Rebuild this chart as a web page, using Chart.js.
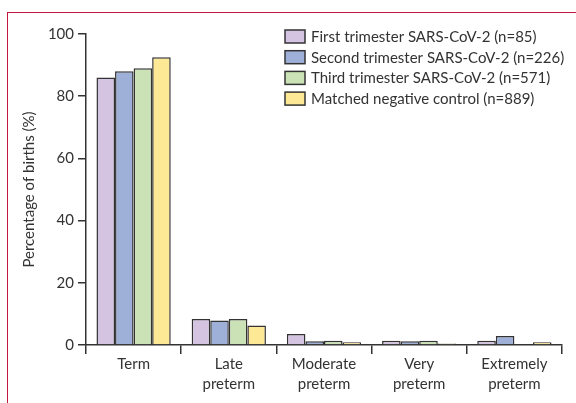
<!DOCTYPE html>
<html>
<head>
<meta charset="utf-8">
<script src="https://cdn.jsdelivr.net/npm/chart.js@4"></script>
<style>
html,body{margin:0;padding:0;background:#fff;}
#wrap{position:relative;width:576px;height:403px;}
#frame{position:absolute;left:7px;top:12px;width:569px;height:391px;border-left:1.5px solid #c4163f;border-top:1.5px solid #c4163f;box-sizing:border-box;}
canvas{position:absolute;left:0;top:0;}
</style>
</head>
<body>
<div id="wrap"><div id="frame"></div><canvas id="c" width="576" height="403"></canvas></div>
<script>
const categories = [["Term"], ["Late", "preterm"], ["Moderate", "preterm"], ["Very", "preterm"], ["Extremely", "preterm"]];
const seriesNames = ["First trimester SARS-CoV-2 (n=85)", "Second trimester SARS-CoV-2 (n=226)", "Third trimester SARS-CoV-2 (n=571)", "Matched negative control (n=889)"];
const firstTrimester = [86.0, 8.4, 3.5, 1.4, 1.4];
const secondTrimester = [88.0, 7.9, 1.2, 1.2, 2.9];
const thirdTrimester = [89.0, 8.4, 1.4, 1.4, 0];
const matchedControl = [92.5, 6.3, 0.9, 0.5, 0.9];
const yTicks = [0, 20, 40, 60, 80, 100];
const colors = ["#d4c4e1", "#9eb0d8", "#cbe2b6", "#fde995"];

const FONT = "Lato, 'Open Sans', sans-serif";
const ink = "#333";
const seriesValues = [firstTrimester, secondTrimester, thirdTrimester, matchedControl];

const legendPlugin = {
  id: 'customLegend',
  afterDraw(chart) {
    const ctx = chart.ctx;
    ctx.save();
    chart.data.datasets.forEach((ds, i) => {
      const y = 30 + i * 20.7;
      ctx.fillStyle = ds.backgroundColor;
      ctx.fillRect(285, y, 20, 13);
      ctx.lineWidth = 1.5;
      ctx.strokeStyle = ink;
      ctx.strokeRect(285, y, 20, 13);
      ctx.fillStyle = ink;
      ctx.font = "15px " + FONT;
      ctx.textBaseline = "middle";
      ctx.fillText(ds.label, 311, y + 7);
    });
    ctx.restore();
  }
};

new Chart(document.getElementById('c'), {
  type: 'bar',
  data: {
    labels: categories,
    datasets: seriesValues.map((v, i) => ({
      label: seriesNames[i],
      data: v,
      backgroundColor: colors[i],
      borderColor: ink,
      borderWidth: 1.5,
      categoryPercentage: 0.78,
      barPercentage: 1.0
    }))
  },
  options: {
    responsive: false,
    animation: false,
    layout: { padding: { top: 34, right: 14, bottom: 0, left: 0 } },
    plugins: { legend: { display: false }, tooltip: { enabled: false } },
    scales: {
      x: {
        offset: true,
        grid: { display: true, offset: true, drawOnChartArea: false, tickLength: 9, color: ink, lineWidth: 1.5 },
        border: { display: true, color: ink, width: 1.5 },
        ticks: { color: ink, padding: 0, font: { family: FONT, size: 15, lineHeight: 1.35 }, maxRotation: 0, autoSkip: false },
        afterFit(scale) { scale.height = 58; }
      },
      y: {
        min: 0, max: 100,
        afterBuildTicks(scale) { scale.ticks = yTicks.map(v => ({ value: v })); },
        grid: { display: true, drawOnChartArea: false, tickLength: 8, color: ink, lineWidth: 1.5 },
        border: { display: true, color: ink, width: 1.5 },
        ticks: { color: ink, padding: 4, font: { family: FONT, size: 15 } },
        title: { display: true, text: "Percentage of births (%)", color: ink, font: { family: FONT, size: 15 }, padding: { top: 20, bottom: 0 } },
        afterFit(scale) { scale.width = 86; }
      }
    }
  },
  plugins: [legendPlugin]
});
</script>
</body>
</html>
